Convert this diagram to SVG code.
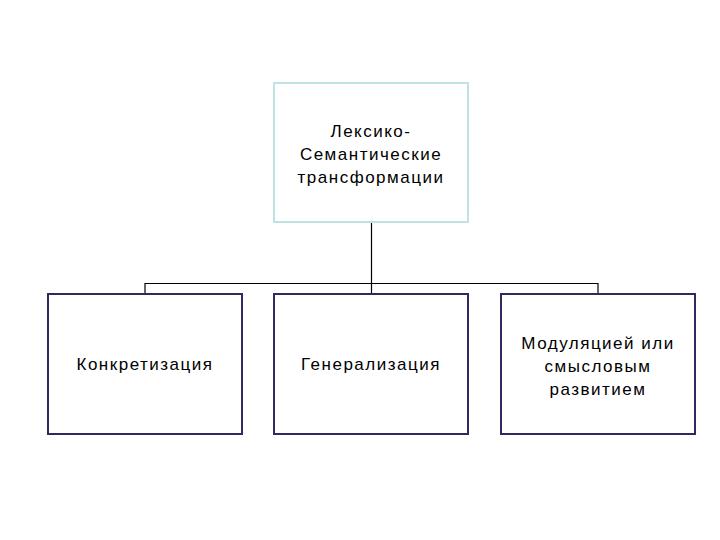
<svg xmlns="http://www.w3.org/2000/svg" width="720" height="540" viewBox="0 0 720 540">
<style>
.b{fill:#fff;stroke:#2e2a60;stroke-width:2}
.t{fill:#fff;stroke:#bfe3e3;stroke-width:2}
text{font-family:"Liberation Sans",Arial,sans-serif;font-size:17px;letter-spacing:1.5px;fill:#000;text-anchor:middle}
.c{stroke:#000;stroke-width:1.2;fill:none}
</style>
<rect width="720" height="540" fill="#fff"/>
<g id="connectors">
<path class="c" d="M371.5 222V283.5M145 293V283.5H598V293M371.5 283.5V293"/>
</g>
<g id="top"><rect class="t" x="274" y="83" width="194" height="139"/>
<text x="371" y="137">Лексико-</text><text x="371" y="160">Семантические</text><text x="371" y="183">трансформации</text></g>
<g id="n1"><rect class="b" x="48" y="294" width="194" height="140"/><text x="145" y="370">Конкретизация</text></g>
<g id="n2"><rect class="b" x="274" y="294" width="194" height="140"/><text x="371" y="370">Генерализация</text></g>
<g id="n3"><rect class="b" x="501" y="294" width="194" height="140"/>
<text x="598" y="349">Модуляцией или</text><text x="598" y="372">смысловым</text><text x="598" y="395">развитием</text></g>
</svg>
